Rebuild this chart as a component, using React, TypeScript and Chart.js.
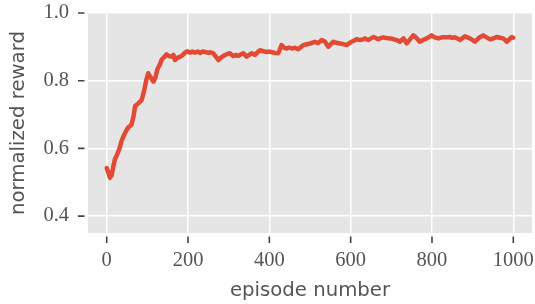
import { useEffect, useRef } from "react";
import { Chart, registerables } from "chart.js";

Chart.register(...registerables);

const episodes = [
  0, 5, 8, 12, 16, 20, 25, 31, 36, 41, 47, 53, 61, 66, 70, 78, 86, 92, 97, 102,
  108, 115, 120, 125, 131, 135, 143, 147, 153, 160, 164, 168, 174, 180, 186, 192, 198, 205, 211, 217,
  224, 230, 236, 242, 250, 256, 262, 268, 275, 281, 287, 291, 297, 303, 311, 317, 324, 330, 336, 344,
  350, 357, 365, 371, 377, 385, 393, 400, 407, 414, 422, 430, 437, 443, 449, 455, 463, 471, 477, 483,
  490, 500, 506, 512, 520, 529, 537, 545, 551, 557, 565, 574, 582, 590, 596, 602, 608, 615, 623, 631,
  635, 643, 650, 656, 662, 668, 674, 680, 688, 697, 705, 713, 721, 730, 738, 746, 754, 762, 770, 778,
  787, 793, 799, 807, 816, 824, 834, 844, 850, 856, 862, 869, 875, 881, 887, 893, 900, 906, 915, 926,
  934, 943, 951, 959, 967, 975, 980, 984, 990, 996, 1000,
];

const rewards = [
  0.542, 0.525, 0.513, 0.52, 0.545, 0.567, 0.58, 0.598, 0.62, 0.635, 0.65, 0.662, 0.67, 0.695, 0.725, 0.733, 0.743, 0.77, 0.8, 0.822,
  0.81, 0.797, 0.81, 0.835, 0.848, 0.862, 0.872, 0.878, 0.873, 0.871, 0.876, 0.861, 0.868, 0.87, 0.875, 0.882, 0.887, 0.883, 0.886, 0.883,
  0.886, 0.882, 0.886, 0.885, 0.882, 0.884, 0.881, 0.872, 0.861, 0.868, 0.873, 0.876, 0.879, 0.881, 0.873, 0.876, 0.873, 0.878, 0.881, 0.871,
  0.876, 0.881, 0.876, 0.884, 0.89, 0.887, 0.885, 0.886, 0.884, 0.882, 0.881, 0.905, 0.897, 0.895, 0.898, 0.895, 0.897, 0.893, 0.899, 0.905,
  0.907, 0.91, 0.912, 0.915, 0.911, 0.92, 0.915, 0.9, 0.908, 0.915, 0.912, 0.91, 0.908, 0.905, 0.91, 0.915, 0.918, 0.923, 0.92, 0.922,
  0.925, 0.92, 0.925, 0.929, 0.926, 0.922, 0.926, 0.928, 0.926, 0.925, 0.923, 0.92, 0.915, 0.925, 0.91, 0.922, 0.934, 0.926, 0.915, 0.92,
  0.925, 0.929, 0.934, 0.928, 0.925, 0.928, 0.928, 0.929, 0.927, 0.928, 0.925, 0.92, 0.926, 0.931, 0.928, 0.925, 0.92, 0.915, 0.926, 0.934,
  0.928, 0.922, 0.925, 0.929, 0.927, 0.925, 0.92, 0.915, 0.922, 0.929, 0.927,
];

const xTicks = [0, 200, 400, 600, 800, 1000];
const xTickLabels = ["0", "200", "400", "600", "800", "1000"];
const yTicks = [0.4, 0.6, 0.8, 1.0];
const yTickLabels = ["0.4", "0.6", "0.8", "1.0"];

const xTitle = "episode number";
const yTitle = "normalized reward";

export default function App() {
  const ref = useRef<HTMLCanvasElement>(null);

  useEffect(() => {
    if (!ref.current) return;

    const background = {
      id: "bgArea",
      beforeDraw(chart: any) {
        const { ctx, chartArea: a } = chart;
        ctx.save();
        ctx.fillStyle = "#E5E5E5";
        ctx.fillRect(a.left, a.top, a.right - a.left, a.bottom - a.top);
        ctx.restore();
      },
    };

    const tickMarks = {
      id: "tickMarks",
      afterDraw(chart: any) {
        const { ctx, chartArea: a, scales } = chart;
        ctx.save();
        ctx.strokeStyle = "#444444";
        ctx.lineWidth = 1.6;
        ctx.beginPath();
        for (const v of xTicks) {
          const px = scales.x.getPixelForValue(v);
          ctx.moveTo(px, a.bottom + 3.5);
          ctx.lineTo(px, a.bottom + 10);
        }
        for (const v of yTicks) {
          const py = scales.y.getPixelForValue(v);
          ctx.moveTo(a.left - 10, py);
          ctx.lineTo(a.left - 3.5, py);
        }
        ctx.stroke();
        ctx.restore();
      },
    };

    const chart = new Chart(ref.current, {
      type: "line",
      data: {
        datasets: [
          {
            data: episodes.map((e, i) => ({ x: e, y: rewards[i] })),
            borderColor: "#E24A33",
            borderWidth: 4.5,
            pointRadius: 0,
            tension: 0,
            fill: false,
            borderJoinStyle: "round",
            borderCapStyle: "round",
          },
        ],
      },
      options: {
        animation: false,
        responsive: false,
        events: [],
        layout: { padding: { top: 13, right: 3, left: 0, bottom: 0 } },
        plugins: {
          legend: { display: false },
          tooltip: { enabled: false },
        },
        scales: {
          x: {
            type: "linear",
            min: -46,
            max: 1046,
            afterBuildTicks: (scale: any) => {
              scale.ticks = xTicks.map((v) => ({ value: v }));
            },
            afterFit: (scale: any) => {
              scale.height = 71;
              scale.paddingLeft = 0;
              scale.paddingRight = 0;
            },
            grid: { color: "#FFFFFF", lineWidth: 1.5, drawTicks: false },
            border: { display: false },
            ticks: {
              padding: 15,
              color: "#555555",
              font: { family: "'Liberation Serif', serif", size: 20.5 },
              maxRotation: 0,
              callback: (value: any) => xTickLabels[xTicks.indexOf(Number(value))] ?? "",
            },
            title: {
              display: true,
              text: xTitle,
              color: "#555555",
              font: { family: "'DejaVu Sans', sans-serif", size: 19.7 },
              padding: { top: 0, bottom: 1 },
            },
          },
          y: {
            type: "linear",
            min: 0.35,
            max: 1.0,
            afterBuildTicks: (scale: any) => {
              scale.ticks = yTicks.map((v) => ({ value: v }));
            },
            afterFit: (scale: any) => {
              scale.width = 88;
              scale.paddingTop = 0;
              scale.paddingBottom = 0;
            },
            grid: { color: "#FFFFFF", lineWidth: 1.5, drawTicks: false },
            border: { display: false },
            ticks: {
              padding: 19,
              color: "#555555",
              font: { family: "'Liberation Serif', serif", size: 20.5 },
              callback: (value: any) => {
                const i = yTicks.findIndex((t) => Math.abs(t - Number(value)) < 1e-9);
                return i >= 0 ? yTickLabels[i] : "";
              },
            },
            title: {
              display: true,
              text: yTitle,
              color: "#555555",
              font: { family: "'DejaVu Sans', sans-serif", size: 19.7 },
              padding: { top: 7.5, bottom: 0 },
            },
          },
        },
      },
      plugins: [background, tickMarks],
    } as any);

    return () => chart.destroy();
  }, []);

  return (
    <div style={{ position: "absolute", left: 0, top: 0, width: 535, height: 304 }}>
      <canvas ref={ref} width={535} height={304} style={{ display: "block" }} />
    </div>
  );
}
